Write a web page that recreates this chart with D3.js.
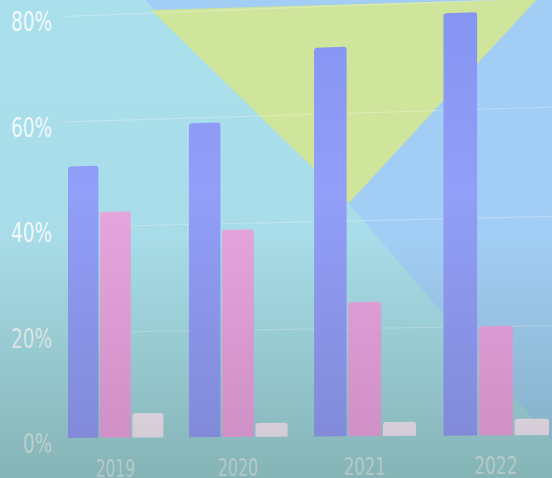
<!DOCTYPE html>
<html>
<head>
<meta charset="utf-8">
<script src="https://cdn.jsdelivr.net/npm/d3@7"></script>
<style>
  html, body { margin: 0; padding: 0; background: #a9dfeb; }
  svg { display: block; }
</style>
</head>
<body>
<svg id="chart"></svg>
<script>
// data
const years = ['2019', '2020', '2021', '2022'];
const seriesA = [51.5, 59.0, 72.4, 77.9];   // blue
const seriesB = [42.7, 38.8, 24.9, 20.1];   // pink
const seriesC = [4.6, 2.6, 2.6, 3.0];       // grey
const seriesKeys = ['a', 'b', 'c'];
const yTicks = [0, 20, 40, 60, 80];

const width = 552, height = 478;

const svg = d3.select('#chart')
    .attr('width', width)
    .attr('height', height);

const defs = svg.append('defs');

function vGrad(id, stops) {
    const g = defs.append('linearGradient')
        .attr('id', id)
        .attr('gradientUnits', 'userSpaceOnUse')
        .attr('x1', 0).attr('y1', 0)
        .attr('x2', 0).attr('y2', height);
    stops.forEach(s => g.append('stop')
        .attr('offset', s[0])
        .attr('stop-color', s[1])
        .attr('stop-opacity', s[2] === undefined ? 1 : s[2]));
}

vGrad('bg', [[0, '#aadfec'], [0.5, '#a7dce8'], [1, '#a6d9e2']]);
vGrad('shade', [[0, '#50786f', 0], [0.5, '#50786f', 0], [1, '#50786f', 0.38]]);
vGrad('barA', [[0, '#8593f2'], [0.4, '#929ff8'], [1, '#7f87d3']]);
vGrad('barB', [[0, '#e8a8e0'], [0.45, '#e6a4dc'], [1, '#cb8dc3']]);
vGrad('barC', [[0, '#ddd5df'], [0.85, '#d9d1db'], [1, '#cbc4ce']]);

// the photo is taken at a slight angle: flat chart coords -> picture
const left = 68, right = 549;
const squeeze = 0.938;
const warpX = u => left + (right - left) * (squeeze * u / (1 - (1 - squeeze) * u));
const baseAt = x => 438 - 3 * (x - left) / (right - left);
const topAt = x => 16.3 - 18.3 * (x - left) / (right - left);

const x0 = d3.scaleBand().domain(years).range([0, 1]).paddingInner(0.209);
const x1 = d3.scaleBand().domain(seriesKeys).range([0, x0.bandwidth()]).paddingInner(0.05);
const y = d3.scaleLinear().domain([0, 80]).range([0, 1]);
const py = (x, v) => baseAt(x) + (topAt(x) - baseAt(x)) * y(v);

// background shapes of the slide
svg.append('rect')
    .attr('width', width).attr('height', height)
    .attr('fill', 'url(#bg)');

svg.append('polygon')
    .attr('points', [[145, 0], [552, 0], [552, 441], [350, 205]].join(' '))
    .attr('fill', '#a2cdf4');

svg.append('polygon')
    .attr('points', [[151, 10], [537, -1], [349, 203]].join(' '))
    .attr('fill', '#cfe59b');

// grid lines
const grid = svg.append('g');
yTicks.filter(d => d > 0).forEach(t => {
    grid.append('line')
        .attr('x1', 66).attr('y1', py(66, t))
        .attr('x2', width).attr('y2', py(width, t))
        .attr('stroke', '#ffffff')
        .attr('stroke-opacity', 0.25)
        .attr('stroke-width', 1.2);
});

const fontFamily = "'Liberation Sans Narrow', 'DejaVu Sans Condensed', 'Liberation Sans', sans-serif";

// y tick labels (condensed face squeezed to the photo's width)
svg.append('g').selectAll('text')
    .data(yTicks)
    .join('text')
    .attr('x', 52)
    .attr('y', d => py(72, d) + 15)
    .attr('text-anchor', 'end')
    .attr('font-family', fontFamily)
    .attr('font-size', 26)
    .attr('textLength', d => 12 * String(d).length + 17)
    .attr('lengthAdjust', 'spacingAndGlyphs')
    .attr('fill', '#ffffff')
    .attr('fill-opacity', 0.86)
    .text(d => d + '%');

// year labels
const groupCenter = d => warpX(x0(d) + x0.bandwidth() / 2);
const groupWidth = d => warpX(x0(d) + x0.bandwidth()) - warpX(x0(d));

svg.append('g').selectAll('text')
    .data(years)
    .join('text')
    .attr('x', groupCenter)
    .attr('y', d => py(groupCenter(d), 0) + 39)
    .attr('text-anchor', 'middle')
    .attr('font-family', fontFamily)
    .attr('font-size', 25)
    .attr('textLength', d => groupWidth(d) * 0.41)
    .attr('lengthAdjust', 'spacingAndGlyphs')
    .attr('fill', '#ffffff')
    .attr('fill-opacity', 0.8)
    .text(d => d);

// darkening toward the bottom of the photo
svg.append('rect')
    .attr('width', width).attr('height', height)
    .attr('fill', 'url(#shade)');

// bars
const rows = years.map((yr, i) => ({
    year: yr,
    values: [
        { key: 'a', v: seriesA[i], fill: 'url(#barA)' },
        { key: 'b', v: seriesB[i], fill: 'url(#barB)' },
        { key: 'c', v: seriesC[i], fill: 'url(#barC)' }
    ]
}));

function barPath(yr, d) {
    const u0 = x0(yr) + x1(d.key);
    const u1 = u0 + x1.bandwidth();
    const xl = warpX(u0), xr = warpX(u1);
    const bl = py(xl, 0), br = py(xr, 0);
    const tl = py(xl, d.v), tr = py(xr, d.v);
    const r = Math.min(3, (bl - tl) / 2);
    const slope = (tr - tl) / (xr - xl);
    return `M${xl},${bl}L${xl},${tl + r}` +
        `Q${xl},${tl} ${xl + r},${tl + slope * r}` +
        `L${xr - r},${tr - slope * r}` +
        `Q${xr},${tr} ${xr},${tr + r}` +
        `L${xr},${br}Z`;
}

svg.append('g').selectAll('g')
    .data(rows)
    .join('g')
    .selectAll('path')
    .data(row => row.values.map(v => Object.assign({ year: row.year }, v)))
    .join('path')
    .attr('d', d => barPath(d.year, d))
    .attr('fill', d => d.fill);
</script>
</body>
</html>
